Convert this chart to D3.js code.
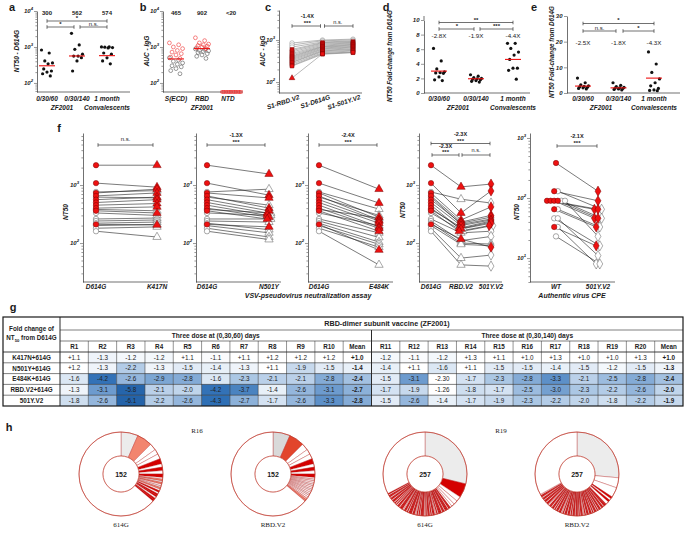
<!DOCTYPE html>
<html><head><meta charset="utf-8">
<script src="https://cdn.jsdelivr.net/npm/d3@7"></script>
<style>body{margin:0;background:#fff}</style>
</head><body>
<script>
// ================= DATA =================
// panel a
const aCats = ["0/30/60","0/30/140","1 month"];
const aTop = ["300","562","574"];
const aGM = [300,562,574];
const aVals0 = [825,680,410,360,340,245,215,200,180,157];
const aVals1 = [2400,1140,860,630,560,560,505,410,215];
const aVals2 = [1000,1000,990,960,940,680,630,500,410,340];
const aSig = ["*","*","n.s."];
// panel b
const bCats = ["S(ECD)","RBD","NTD"];
const bTop = ["465","902","<20"];
const bGM = [465,902];
const bEcdRed = [1300,1150,1000,900,800,720,650,600,520,480];
const bEcdGray = [500,430,400,360,330,300,280,250,220,180];
const bRbdRed = [1800,1500,1300,1200,1150,1100,1050,1000,950,900];
const bRbdGray = [880,850,800,780,750,700,650,600,550,480];
const bNtd = [20,20,20,20,20,20,20,20,20,20,20,20];
// panel c
const cCats = ["S1-RBD.V2","S1-D614G","S1-501Y.V2"];
const cRbdV2 = [850,760,680,600,560,520,480,450,420,400,380,360,340,320,300,290,270,250,240,125];
const cD614G = [1000,960,900,870,840,800,760,720,700,680,650,620,600,570,550,530,500,480,460,470];
const c501YV2 = [1050,1000,950,920,880,850,820,790,760,730,700,680,650,620,600,570,550,520,500,510];
const cSig = ["-1.4X","***","n.s."];
// panel d
const dFold = ["-2.8X","-1.9X","-4.4X"];
const dMean = [3.0,1.95,4.6];
const dVals0 = [6.1,4.4,3.3,2.9,2.8,2.75,2.7,2.2,1.8,1.7];
const dVals1 = [2.5,2.3,2.1,2.0,1.95,1.9,1.8,1.7,1.6,1.5];
const dVals2 = [6.8,6.8,6.1,5.6,5.2,4.6,3.4,3.4,3.1,1.9];
const dSig = ["**","*","***"];
const dTicks = [0,2,4,6,8,10];
// panel e
const eFold = ["-2.5X","-1.8X","-4.3X"];
const eMean = [2.7,2.0,5.8];
const eVals0 = [5.8,4.0,3.2,2.8,2.6,2.4,2.2,2.0,1.8,1.6];
const eVals1 = [4.0,3.0,2.5,2.2,2.0,1.9,1.8,1.6,1.4,1.2];
const eVals2 = [16,11.3,8.0,5.5,4.0,2.8,1.8,1.2,1.0,0.9];
const eSig = ["*","n.s.","*"];
const eTicks = [0,10,20,30];
// panel f (red = filled, open = hollow subjects)
const fD614GRed  = [2200,1080,730,650,560,500,450,400,360,210];
const fD614GOpen = [760,620,380,330,260,240,220,200,180,160];
const fK417NRed  = [2200,920,850,730,620,560,480,420,330,205];
const fK417NOpen = [800,600,360,300,270,250,230,210,190,127];
const fN501YRed  = [1550,670,600,400,360,330,300,280,260,190];
const fN501YOpen = [850,450,330,300,260,230,170,150,127,115];
const fE484KRed  = [850,490,280,250,240,220,190,180,160,76];
const fE484KOpen = [385,300,270,200,150,125,104,95,85,42];
const fRBDV2Red  = [930,330,250,230,220,200,180,175,160,117];
const fRBDV2Open = [570,210,180,160,150,110,100,95,55,42];
const f501YRed   = [1040,790,420,300,280,250,240,220,200,85];
const f501YOpen  = [490,260,230,200,160,130,96,90,62,40];
const fWTRed     = [383,130,90,90,90,90,65,33];
const fWTOpen    = [130,90,90,65,46,46,33,23];
const fCpeV2Red  = [130,90,65,65,46,46,33,16];
const fCpeV2Open = [65,46,23,33,16,11,8,8];
const fSig1 = ["n.s."], fSig2 = ["-1.3X","***"], fSig3 = ["-2.4X","***"];
const fSig4 = ["-2.3X","***","-2.3X","***","n.s."], fSig5 = ["-2.1X","***"];
// panel g (table)
const gRows = ["K417N+614G","N501Y+614G","E484K+614G","RBD.V2+614G","501Y.V2"];
const gCols = ["R1","R2","R3","R4","R5","R6","R7","R8","R9","R10","Mean","R11","R12","R13","R14","R15","R16","R17","R18","R19","R20","Mean"];
const gK417N = ["+1.1","-1.3","-1.2","-1.2","+1.1","-1.1","+1.1","+1.2","+1.2","+1.2","+1.0","-1.2","-1.1","-1.2","+1.3","+1.1","+1.0","+1.3","+1.0","+1.0","+1.3","+1.0"];
const gN501Y = ["+1.2","-1.3","-2.2","-1.3","-1.5","-1.4","-1.3","+1.1","-1.9","-1.5","-1.4","-1.4","+1.1","-1.6","+1.1","-1.5","-1.5","-1.4","-1.5","-1.2","-1.5","-1.3"];
const gE484K = ["-1.6","-4.2","-2.6","-2.9","-2.8","-1.6","-2.3","-2.1","-2.1","-2.8","-2.4","-1.5","-3.1","-2.30","-1.7","-2.3","-2.8","-3.3","-2.1","-2.5","-2.8","-2.4"];
const gRBDV2 = ["-1.3","-3.1","-5.8","-2.1","-2.0","-4.2","-3.7","-1.4","-2.6","-3.1","-2.7","-1.7","-1.9","-1.26","-1.8","-1.7","-2.5","-3.0","-2.3","-2.2","-2.6","-2.0"];
const g501YV2 = ["-1.8","-2.6","-6.1","-2.2","-2.6","-4.3","-2.7","-1.7","-2.6","-3.3","-2.8","-1.5","-2.6","-1.4","-1.7","-1.9","-2.3","-2.2","-2.0","-1.8","-2.2","-1.9"];
const gTitle = "RBD-dimer subunit vaccine (ZF2001)";
const gBlocks = ["Three dose at (0,30,60) days","Three dose at (0,30,140) days"];
// panel h (clone pies)
const hTitles = ["R16","R19"];
const hLabels = ["614G","RBD.V2","614G","RBD.V2"];
const hTotals = [152,152,257,257];
const hBig1 = [10,9,4,3,3,3,2,2,2,2], hBigC1 = "gswwwrwrwr", hThin1 = "wsgswgswrwrrwrr";
const hBig2 = [10,9,4,3,3,3,2,2,2,2], hBigC2 = "Gowwwrwrwr", hThin2 = "wgwwgwwgwwgwwps";
const hBig3 = [74,14,5,4,3,2], hBigC3 = "grwwww",
      hThin3 = "rrwrrrwrrw"+"rrrwrwwrrw"+"rwrrwrwwrr"+"rwrwrwwrrw"+"rrrwrwrrww"+"rrrwrrwrwr"+"wrrwrrwrrw"+"r";
const hBig4 = [68,10,10,2,2,2,3], hBigC4 = "gwwrwrw",
      hThin4 = "rrrwrrwrrw"+"rwrrwrwrrw"+"rrwrwwrrwr"+"wrrwrrwrwr"+"rwrrwrwwrr"+"wrrwrwrrwr"+"rwwrrwrrwr"+"rwrrw";

// ================= RENDER =================
const SANS = "'Liberation Sans', Arial, Helvetica, sans-serif";
const SERIF = "'Liberation Serif', 'Times New Roman', serif";
const RED = "#ee1111", DRED = "#7a0000", INK = "#1a1a1a";
const svg = d3.select("body").append("svg").attr("width",685).attr("height",534).style("font-family",SANS);
svg.append("rect").attr("width",685).attr("height",534).attr("fill","#fff");

function T(x,y,s,o={}){
  const t = svg.append("text").attr("x",x).attr("y",y)
    .attr("font-size",o.fs||6.5).attr("font-weight",o.fw||"bold")
    .attr("font-style",o.it===false?"normal":"italic")
    .attr("text-anchor",o.a||"middle").attr("fill",o.c||INK)
    .attr("font-family",o.ff||SANS);
  if(o.rot!=null) t.attr("transform",`rotate(${o.rot},${x},${y})`);
  t.text(s); return t;
}
function styleAxis(g){
  g.select(".domain").attr("stroke","#333").attr("stroke-width",0.7);
  g.selectAll(".tick line").attr("stroke","#333").attr("stroke-width",0.5);
}
function logTicks(sc){
  const [lo,hi]=sc.domain(), t=[];
  for(let d=Math.floor(Math.log10(lo)); d<=Math.ceil(Math.log10(hi)); d++)
    for(let m=1;m<10;m++){ const v=m*Math.pow(10,d); if(v>=lo&&v<=hi) t.push(v); }
  return t;
}
const isDec = v => Math.abs(Math.log10(v)-Math.round(Math.log10(v)))<1e-9;
function yAxisLog(x0, sc, decs){
  const g = svg.append("g").attr("transform",`translate(${x0},0)`)
    .call(d3.axisLeft(sc).tickValues(logTicks(sc)).tickSize(3).tickSizeOuter(0).tickFormat(()=>""));
  styleAxis(g);
  g.selectAll(".tick line").attr("x2", d=>isDec(d)?-3:-1.6);
  decs.forEach(e=>{
    const t = svg.append("text").attr("x",x0-4).attr("y",sc(Math.pow(10,e))+2)
      .attr("text-anchor","end").attr("font-size",6).attr("font-weight","bold")
      .attr("font-style","italic").attr("fill",INK);
    t.append("tspan").text("10");
    t.append("tspan").attr("dy",-2.6).attr("font-size",4.2).text(e);
  });
}
function yAxisLin(x0, sc, ticks){
  const g = svg.append("g").attr("transform",`translate(${x0},0)`)
    .call(d3.axisLeft(sc).tickValues(ticks).tickSize(3).tickSizeOuter(0).tickFormat(d3.format("d")));
  styleAxis(g);
  g.selectAll(".tick text").attr("font-size",6).attr("font-weight","bold").attr("font-style","italic")
    .attr("font-family",SANS).attr("fill",INK).attr("x",-4.5);
}
function xLine(x0,x1,y){
  svg.append("line").attr("x1",x0).attr("x2",x1).attr("y1",y).attr("y2",y).attr("stroke","#333").attr("stroke-width",0.7);
}
function bracket(x1,x2,y){
  const g = svg.append("g").attr("stroke","#333").attr("stroke-width",0.7);
  g.append("line").attr("x1",x1).attr("x2",x2).attr("y1",y).attr("y2",y);
  g.append("line").attr("x1",x1).attr("x2",x1).attr("y1",y-1.8).attr("y2",y+1.8);
  g.append("line").attr("x1",x2).attr("x2",x2).attr("y1",y-1.8).attr("y2",y+1.8);
}
const jit = i => ((i*7)%11-5)*1.1;
function dotCol(xc, vals, ys, meanV){
  vals.forEach((v,i)=>svg.append("circle").attr("cx",xc+jit(i)).attr("cy",ys(v)).attr("r",1.6).attr("fill","#111"));
  svg.append("line").attr("x1",xc-8).attr("x2",xc+8).attr("y1",ys(meanV)).attr("y2",ys(meanV))
    .attr("stroke",RED).attr("stroke-width",1.1);
}
function panelLetter(x,y,s){ T(x,y,s,{fs:11,it:false}); }

// ---------- panel a ----------
panelLetter(12,11,"a");
{
  const ys = d3.scaleLog().domain([56,1e4]).range([92,11]);
  const xs = d3.scalePoint().domain(aCats).range([47,107]);
  yAxisLog(37, ys, [2,3,4]); xLine(37,130,92);
  [aVals0,aVals1,aVals2].forEach((v,i)=>dotCol(xs(aCats[i]), v, ys, aGM[i]));
  aTop.forEach((s,i)=>T(xs(aCats[i]),15,s,{it:false,fs:6}));
  bracket(xs(aCats[0]),xs(aCats[2]),21); T(77,20,aSig[0],{it:false,fs:6});
  bracket(xs(aCats[0]),74,27); T(60.5,26,aSig[1],{it:false,fs:6});
  bracket(80,xs(aCats[2]),27); T(93.5,25.5,aSig[2],{it:false,fs:6,fw:"normal"});
  aCats.forEach(c=>T(xs(c),101,c));
  T((xs(aCats[0])+xs(aCats[1]))/2,110,"ZF2001"); T(xs(aCats[2]),110,"Convalescents");
  T(19,51,"NT50 - D614G",{rot:-90});
}
// ---------- panel b ----------
panelLetter(143,11,"b");
{
  const ys = d3.scaleLog().domain([56,1e4]).range([92,11]);
  const xs = d3.scalePoint().domain(bCats).range([176,228]);
  yAxisLog(163, ys, [2,3,4]); xLine(163,243,92);
  const openDots=(xc,vals,col)=>vals.forEach((v,i)=>svg.append("circle").attr("cx",xc+jit(i)*1.2).attr("cy",ys(v)).attr("r",1.9)
      .attr("fill","none").attr("stroke",col).attr("stroke-width",0.6));
  openDots(xs("S(ECD)"),bEcdGray,"#555"); openDots(xs("S(ECD)"),bEcdRed,"#ee3333");
  openDots(xs("RBD"),bRbdGray,"#555"); openDots(xs("RBD"),bRbdRed,"#ee3333");
  [bGM[0],bGM[1]].forEach((m,i)=>svg.append("line").attr("x1",xs(bCats[i])-8).attr("x2",xs(bCats[i])+8)
    .attr("y1",ys(m)).attr("y2",ys(m)).attr("stroke",RED).attr("stroke-width",1.1));
  const lo = ys.domain()[0];
  svg.append("line").attr("x1",xs("NTD")-8).attr("x2",xs("NTD")+14).attr("y1",ys(lo)).attr("y2",ys(lo)).attr("stroke",RED).attr("stroke-width",0.8);
  bNtd.forEach((v,i)=>svg.append("rect").attr("x",xs("NTD")-7+i*1.7).attr("y",ys(Math.max(v,lo))-1.5)
    .attr("width",3).attr("height",3).attr("fill","none").attr("stroke","#ee3333").attr("stroke-width",0.5));
  bTop.forEach((s,i)=>T(xs(bCats[i])+(i==2?3:0),15,s,{it:false,fs:6}));
  bCats.forEach(c=>T(xs(c),101,c));
  T(xs("RBD"),110,"ZF2001");
  T(149,51,"AUC - IgG",{rot:-90});
}
// ---------- panel c ----------
panelLetter(268,11,"c");
{
  const ys = d3.scaleLog().domain([55,5180]).range([93,10]);
  const xs = d3.scalePoint().domain(cCats).range([292,353]);
  yAxisLog(279, ys, [2,3]); xLine(279,362,93);
  const cols=[cRbdV2,cD614G,c501YV2];
  cRbdV2.forEach((_,i)=>{
    svg.append("path").attr("d",d3.line()(cols.map((a,k)=>[xs(cCats[k]),ys(a[i])])))
      .attr("fill","none").attr("stroke","#8a8a8a").attr("stroke-width",0.6);
  });
  cRbdV2.forEach((_,i)=>cols.forEach((a,k)=>{
    const open = i<3;
    const shape = (i===cRbdV2.length-1 && k===0) ? d3.symbolTriangle : (open? d3.symbolCircle : d3.symbolSquare);
    svg.append("path").attr("d",d3.symbol().type(shape).size(open?16:14)())
      .attr("transform",`translate(${xs(cCats[k])},${ys(a[i])})`)
      .attr("fill",open?"#fff":RED).attr("stroke",open?"#888":DRED).attr("stroke-width",0.5);
  }));
  const x0=xs(cCats[0]),x1=xs(cCats[1]),x2=xs(cCats[2]);
  bracket(x0,x1-2,26); T((x0+x1)/2,18,cSig[0],{it:false,fs:5.5}); T((x0+x1)/2,25,cSig[1],{it:false,fs:6});
  bracket(x1+2,x2,26); T((x1+x2)/2,24,cSig[2],{it:false,fs:5.5,fw:"normal"});
  cCats.forEach(c=>T(xs(c)+8,99,c,{a:"end",rot:-18}));
  T(265,51,"AUC - IgG",{rot:-90});
}
// ---------- panel d ----------
panelLetter(386,11,"d");
const foldCats = aCats;
{
  const ys = d3.scaleLinear().domain([0,10]).range([93,20]);
  const xs = d3.scalePoint().domain(foldCats).range([439,513]);
  yAxisLin(424, ys, dTicks); xLine(424,530,93);
  svg.append("line").attr("x1",424).attr("x2",424).attr("y1",16).attr("y2",20).attr("stroke","#333").attr("stroke-width",0.7);
  [dVals0,dVals1,dVals2].forEach((v,i)=>dotCol(xs(foldCats[i]),v,ys,dMean[i]));
  dFold.forEach((s,i)=>T(xs(foldCats[i]),38,s,{it:false,fs:6.2,fw:"normal"}));
  bracket(xs(foldCats[0]),xs(foldCats[2]),22.5); T(476,21.5,dSig[0],{it:false,fs:6});
  bracket(xs(foldCats[0]),474,29); T(457,28,dSig[1],{it:false,fs:6});
  bracket(480,xs(foldCats[2]),29); T(496.5,28,dSig[2],{it:false,fs:6});
  foldCats.forEach(c=>T(xs(c),101,c));
  T(458,110,"ZF2001"); T(xs(foldCats[2]),110,"Convalescents");
  T(392,56,"NT50 Fold-change from D614G",{rot:-90,fs:6.3});
}
// ---------- panel e ----------
panelLetter(534,11,"e");
{
  const ys = d3.scaleLinear().domain([0,30]).range([93,16]);
  const xs = d3.scalePoint().domain(foldCats).range([583,654]);
  yAxisLin(567, ys, eTicks); xLine(567,680,93);
  [eVals0,eVals1,eVals2].forEach((v,i)=>dotCol(xs(foldCats[i]),v,ys,eMean[i]));
  eFold.forEach((s,i)=>T(xs(foldCats[i]),45,s,{it:false,fs:6.2,fw:"normal"}));
  bracket(xs(foldCats[0]),xs(foldCats[2]),23.5); T(618.5,22,eSig[0],{it:false,fs:6});
  bracket(xs(foldCats[0]),616,31); T(599.5,30,eSig[1],{it:false,fs:6,fw:"normal"});
  bracket(623,xs(foldCats[2]),31); T(638.5,30,eSig[2],{it:false,fs:6});
  foldCats.forEach(c=>T(xs(c),101,c));
  T(601,110,"ZF2001"); T(xs(foldCats[2]),110,"Convalescents");
  T(554,52,"NT50 Fold-change from D614G",{rot:-90,fs:6.3});
}
// ---------- panel f ----------
panelLetter(59,132,"f");
{
  const ysP = d3.scaleLog().domain([21.3,7900]).range([282,133]);
  const ysA = d3.scaleLog().domain([4,1210]).range([282,133]);
  const circ=d3.symbolCircle, tri=d3.symbolTriangle, dia=d3.symbolDiamond;
  const subs = [
    {ax:83,xe:168,r:[96,157],cats:["D614G","K417N"],red:[fD614GRed,fK417NRed],open:[fD614GOpen,fK417NOpen],sh:[circ,tri],ys:ysP,dec:[2,3]},
    {ax:196,xe:281,r:[207,269],cats:["D614G","N501Y"],red:[fD614GRed,fN501YRed],open:[fD614GOpen,fN501YOpen],sh:[circ,tri],ys:ysP,dec:[2,3]},
    {ax:308,xe:393,r:[319,379],cats:["D614G","E484K"],red:[fD614GRed,fE484KRed],open:[fD614GOpen,fE484KOpen],sh:[circ,tri],ys:ysP,dec:[2,3]},
    {ax:419,xe:502,r:[431,491],cats:["D614G","RBD.V2","501Y.V2"],red:[fD614GRed,fRBDV2Red,f501YRed],open:[fD614GOpen,fRBDV2Open,f501YOpen],sh:[circ,tri,dia],ys:ysP,dec:[2,3]},
    {ax:530,xe:615,r:[556,598],cats:["WT","501Y.V2"],red:[fWTRed,fCpeV2Red],open:[fWTOpen,fCpeV2Open],sh:[circ,dia],ys:ysA,dec:[1,2,3]}
  ];
  subs.forEach(S=>{
    const xs = d3.scalePoint().domain(S.cats).range(S.r);
    yAxisLog(S.ax, S.ys, S.dec); xLine(S.ax,S.xe,282);
    // dodge identical values within a column
    const pos = S.cats.map((c,k)=>{
      const pts = [...S.red[k].map((v,i)=>({g:"red",i,v})), ...S.open[k].map((v,i)=>({g:"open",i,v}))];
      const groups = d3.group(pts,p=>p.v);
      const out = {red:[],open:[]};
      groups.forEach(arr=>arr.forEach((p,j)=>{ out[p.g][p.i]=[xs(c)+(j-(arr.length-1)/2)*3.6, S.ys(p.v)]; }));
      return out;
    });
    ["open","red"].forEach(g=>{
      S[g][0].forEach((_,i)=>svg.append("path").attr("d",d3.line()(pos.map(p=>p[g][i])))
        .attr("fill","none").attr("stroke","#222").attr("stroke-width",0.6));
    });
    ["open","red"].forEach(g=>{
      S.cats.forEach((c,k)=>S[g][k].forEach((v,i)=>{
        const sh=S.sh[k];
        svg.append("path").attr("d",d3.symbol().type(sh).size(sh===tri?30:(sh===dia?30:23))())
          .attr("transform",`translate(${pos[k][g][i][0]},${pos[k][g][i][1]})`)
          .attr("fill",g==="red"?RED:"#fff").attr("stroke",g==="red"?DRED:"#555").attr("stroke-width",0.5);
      }));
    });
    S.cats.forEach(c=>T(xs(c),289,c));
    S.xs = xs;
  });
  // brackets
  const [s1,s2,s3,s4,s5]=subs;
  bracket(98,153,145); T(125.5,141,fSig1[0],{it:false,fs:6,fw:"normal"});
  bracket(207,265,145); T(236,137,fSig2[0],{it:false,fs:5.5}); T(236,144,fSig2[1],{it:false,fs:6});
  bracket(319,377,145); T(348,137,fSig3[0],{it:false,fs:5.5}); T(348,144,fSig3[1],{it:false,fs:6});
  bracket(431,490,143.5); T(460.5,136,fSig4[0],{it:false,fs:5.5}); T(460.5,142.5,fSig4[1],{it:false,fs:6});
  bracket(432,459,155); T(445.5,148,fSig4[2],{it:false,fs:5.5}); T(445.5,154,fSig4[3],{it:false,fs:6});
  bracket(462,490,155); T(476,152,fSig4[4],{it:false,fs:5.5,fw:"normal"});
  bracket(557,597,146); T(577,137.5,fSig5[0],{it:false,fs:5.5}); T(577,145,fSig5[1],{it:false,fs:6});
  T(68,212,"NT50",{rot:-90}); T(405,210,"NT50",{rot:-90}); T(519,212,"NT50",{rot:-90});
  T(308,298,"VSV-pseudovirus neutralization assay",{fs:7});
  T(572,298,"Authentic virus CPE",{fs:7});
}
// ---------- panel g ----------
panelLetter(13,311,"g");
{
  const X0=3, X1=60, X2=683, Y0=317, Y1=330, Y2=341, Y3=352, Y4=406;
  const xb = d3.scaleBand().domain(d3.range(gCols.length)).range([X1,X2]);
  const yb = d3.scaleBand().domain(gRows).range([Y3,Y4]);
  const rowsData = [gK417N,gN501Y,gE484K,gRBDV2,g501YV2];
  const col = d3.scaleLinear().domain([1.0,1.3,2.2,3.3,4.3,6.1])
    .range(["#ffffff","#eff4fa","#b3cce7","#5d90c8","#2e6fb5","#2463a9"]).clamp(true);
  const fillOf = s => { const v=+s; if(v>0 || s.split(".")[1].length>1) return "#ffffff"; return col(-v); };
  const tb = svg.append("g");
  rowsData.forEach((arr,r)=>arr.forEach((s,c)=>{
    tb.append("rect").attr("x",xb(c)).attr("y",yb(gRows[r])).attr("width",xb.bandwidth()).attr("height",yb.bandwidth())
      .attr("fill",fillOf(s));
  }));
  const ln=(x1,y1,x2,y2,w)=>tb.append("line").attr("x1",x1).attr("y1",y1).attr("x2",x2).attr("y2",y2)
      .attr("stroke","#2a2a2a").attr("stroke-width",w);
  // horizontal
  ln(X1,Y1,X2,Y1,0.6); ln(X1,Y2,X2,Y2,0.6); ln(X0,Y3,X2,Y3,0.9);
  gRows.forEach((r,i)=>{ if(i>0) ln(X0,yb(r),X2,yb(r),0.6); });
  // vertical
  d3.range(1,gCols.length).forEach(c=>{ if(c!==11) ln(xb(c),Y2,xb(c),Y4,0.5); });
  ln(xb(11),Y1,xb(11),Y4,1.0); ln(X1,Y0,X1,Y4,1.0);
  tb.append("rect").attr("x",X0).attr("y",Y0).attr("width",X2-X0).attr("height",Y4-Y0)
    .attr("fill","none").attr("stroke","#1a1a1a").attr("stroke-width",1.2);
  const tt=(x,y,s,o={})=>T(x,y,s,Object.assign({it:false,fs:6.3,fw:"normal",c:"#222"},o));
  tt(387,326,gTitle,{fw:"bold",fs:7.2});
  tt((X1+xb(11))/2,338,gBlocks[0],{fw:"bold",fs:6.6});
  tt((xb(11)+X2)/2,338,gBlocks[1],{fw:"bold",fs:6.6});
  gCols.forEach((c,i)=>tt(xb(i)+xb.bandwidth()/2,349,c,{fw:"bold"}));
  tt(31.5,331,"Fold change of",{fw:"bold",fs:6.3});
  const t2 = tt(31.5,340,"",{fw:"bold",fs:6.3});
  t2.append("tspan").text("NT"); t2.append("tspan").attr("font-size",4.2).attr("dy",1.5).text("50");
  t2.append("tspan").attr("dy",-1.5).text(" from D614G");
  gRows.forEach((r,i)=>tt(31.5,yb(r)+yb.bandwidth()/2+2.3,r,{fw:"bold"}));
  rowsData.forEach((arr,r)=>arr.forEach((s,c)=>tt(xb(c)+xb.bandwidth()/2,yb(gRows[r])+yb.bandwidth()/2+2.2,s,
      {fw: gCols[c]==="Mean"?"bold":"normal"})));
}
// ---------- panel h ----------
panelLetter(9,431,"h");
{
  const colors = {g:"#ececec",G:"#d9d9d9",s:"#f2856f",o:"#e2452c",p:"#f7b5a8",r:"#d40000",w:"#ffffff"};
  const cx = d3.scalePoint().domain(d3.range(4)).range([121,577]);
  const bigs=[hBig1,hBig2,hBig3,hBig4], bigC=[hBigC1,hBigC2,hBigC3,hBigC4], thins=[hThin1,hThin2,hThin3,hThin4];
  const arc = d3.arc().innerRadius(18).outerRadius(42);
  bigs.forEach((b,k)=>{
    const segs = b.map((n,i)=>({n,c:bigC[k][i]})).concat(thins[k].split("").map(c=>({n:1,c})));
    const used = d3.sum(segs,s=>s.n);
    segs.push({n:hTotals[k]-used,c:"w"});
    const pie = d3.pie().sort(null).value(s=>s.n)(segs);
    const g = svg.append("g").attr("transform",`translate(${cx(k)},474)`);
    g.selectAll("path").data(pie).join("path").attr("d",arc)
      .attr("fill",d=>colors[d.data.c]).attr("stroke","#b52222").attr("stroke-width",0.35);
    g.append("circle").attr("r",42).attr("fill","none").attr("stroke","#c0392b").attr("stroke-width",0.7);
    g.append("circle").attr("r",18).attr("fill","#fff").attr("stroke","#c0392b").attr("stroke-width",0.7);
    T(cx(k),476.5,String(hTotals[k]),{it:false,fs:7});
    T(cx(k),527,hLabels[k],{it:false,fw:"normal",ff:SERIF,fs:7});
  });
  T((cx(0)+cx(1))/2,433,hTitles[0],{it:false,fw:"normal",ff:SERIF,fs:7});
  T((cx(2)+cx(3))/2,433,hTitles[1],{it:false,fw:"normal",ff:SERIF,fs:7});
}
</script>
</body></html>
